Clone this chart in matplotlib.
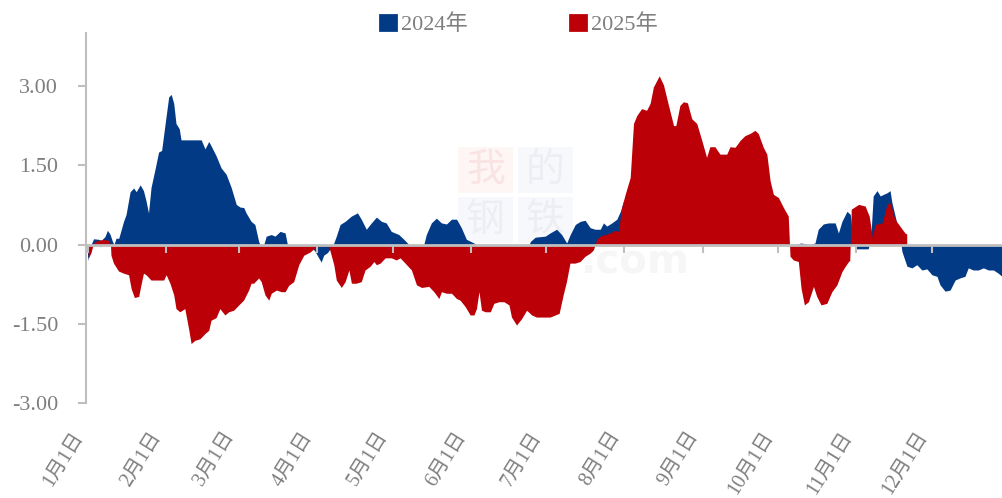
# 2024 vs 2025 area chart (daily values, day index from Jan 1)

import numpy as np
import pandas as pd
import matplotlib.pyplot as plt
from matplotlib.patches import Patch, Rectangle

plt.rcParams['font.family'] = ['Liberation Serif', 'Noto Sans CJK SC']
plt.rcParams['axes.unicode_minus'] = False

# 2024 series (blue)
days_2024 = [0, 0.5, 1.4, 2.4, 4.4, 5.4, 6.9, 7.9, 8.9, 9.9, 10.5, 11.3, 12.4, 14.3, 15.3,
             16.9, 18.3, 19.3, 20.9, 22.2, 23.2, 24.2, 25.2, 26.8, 28.2, 29.4, 30.8, 32.2,
             33.2, 34.2, 35.1, 36.4, 37.1, 39.1, 45.1, 46.6, 48.1, 49.0, 51.0, 53.0, 55.0,
             57.0, 59.0, 60.5, 62.0, 62.9, 64.9, 66.4, 67.9, 68.4, 69.9, 70.9, 72.9, 74.4,
             76.4, 78.4, 79.3, 87.8, 88.7, 90.2, 91.7, 92.7, 93.7, 95.2, 96.7, 97.7, 98.7,
             100.2, 102.2, 103.7, 104.7, 107.1, 108.6, 110.6, 112.6, 114.6, 116.6, 118.5,
             120.5, 123.5, 125.5, 127.5, 133.4, 134.4, 136.4, 138.4, 140.4, 142.4, 144.4,
             146.4, 148.3, 150.3, 153.3, 154.3, 175.2, 175.7, 177.6, 181.6, 183.5, 186.1,
             188.1, 190.1, 191.5, 193.5, 195.5, 197.4, 199.4, 201.4, 203.4, 204.7, 206.0,
             208.0, 210.0, 211.4, 212.7, 216, 222, 230, 240, 250, 260, 268, 274, 277, 278.4,
             281.4, 282.9, 284.4, 286.4, 288.6, 289.9, 291.9, 293.9, 296.6, 297.9, 299.3,
             301.3, 302.6, 303.2, 304.7, 309.7, 310.7, 311.7, 313.2, 314.5, 315.8, 317.2,
             318.4, 319.1, 321.1, 322.6, 323.1, 325.1, 327.1, 329.0, 331.0, 333.0, 335.0,
             337.0, 338.2, 340.2, 342.2, 344.2, 346.1, 348.1, 349.4, 351.4, 353.4, 355.4,
             357.4, 359.4, 361.3, 362.8]
vals_2024 = [-0.30, -0.20, 0.00, 0.11, 0.10, 0.08, 0.15, 0.27, 0.20, 0.06, 0.00, 0.12, 0.12, 0.44, 0.57,
             1.00, 1.07, 1.00, 1.13, 1.02, 0.83, 0.60, 1.08, 1.43, 1.75, 1.78, 2.29, 2.79,
             2.84, 2.67, 2.29, 2.19, 1.98, 1.98, 1.98, 1.81, 1.95, 1.87, 1.68, 1.45, 1.33,
             1.08, 0.76, 0.71, 0.70, 0.60, 0.44, 0.38, 0.06, 0.00, 0.00, 0.16, 0.19, 0.16,
             0.25, 0.22, 0.00, 0.00, -0.05, -0.12, -0.25, -0.33, -0.20, -0.15, -0.05, 0.03, 0.16,
             0.38, 0.44, 0.50, 0.54, 0.60, 0.48, 0.29, 0.41, 0.52, 0.44, 0.41,
             0.25, 0.19, 0.10, 0.00, 0.00, 0.19, 0.41, 0.50, 0.41, 0.39, 0.48,
             0.48, 0.32, 0.10, 0.03, 0.00, 0.00, 0.06, 0.14, 0.16, 0.22, 0.29,
             0.19, 0.03, 0.19, 0.38, 0.44, 0.46, 0.32, 0.29, 0.29, 0.41, 0.35,
             0.41, 0.48, 0.63, 0.83, 0.95, 1.10, 0.95, 1.00, 0.80, 0.70, 0.50, 0.30, 0.10, 0.00,
             0.00, 0.03, 0.02, 0.00, 0.03, 0.29, 0.39, 0.41, 0.41, 0.22, 0.44,
             0.63, 0.57, 0.30, -0.08, -0.08, 0.10, 0.92, 1.02, 0.92, 0.95, 0.98,
             1.02, 0.80, 0.40, 0.05, -0.13, -0.41, -0.44, -0.38, -0.48, -0.46, -0.57,
             -0.60, -0.76, -0.88, -0.86, -0.67, -0.63, -0.60, -0.44, -0.48, -0.48, -0.44,
             -0.48, -0.48, -0.54, -0.60]

# 2025 series (red)
days_2025 = [0, 0.4, 1.4, 2.2, 2.9, 4.4, 6.4, 8.3, 9.1, 9.3, 10.3, 12.3, 14.3, 16.3, 17.3,
             18.6, 20.3, 21.2, 22.2, 23.2, 25.2, 30.2, 31.2, 32.7, 34.2, 35.1, 36.6, 38.6,
             40.1, 41.1, 42.6, 44.6, 46.6, 48.1, 49.0, 51.0, 52.5, 54.5, 56.0, 58.0, 60.0,
             61.9, 63.9, 64.9, 65.9, 67.9, 68.9, 70.4, 71.9, 72.9, 74.9, 76.9, 78.4, 79.8,
             81.8, 83.8, 85.8, 88.3, 90.3, 92.7, 95.7, 97.7, 98.7, 100.7, 102.2, 103.7,
             104.7, 106.6, 108.6, 110.1, 112.1, 113.6, 114.6, 116.1, 118.1, 120.5, 122.5,
             124.0, 126.0, 128.5, 130.5, 132.5, 135.4, 137.4, 139.4, 140.4, 142.4, 144.4,
             146.4, 147.8, 149.8, 151.8, 153.3, 154.3, 155.3, 156.3, 157.8, 159.8, 161.2,
             163.2, 165.2, 167.2, 168.2, 170.2, 172.2, 174.2, 176.2, 178.1, 181.6, 183.5,
             187.1, 188.7, 190.0, 191.4, 193.4, 195.4, 197.4, 199.4, 200.7, 202.0, 203.4,
             205.3, 207.3, 209.3, 210.6, 211.9, 213.3, 215.3, 216.6, 217.9, 219.8, 221.8,
             223.2, 224.5, 226.8, 228.5, 230.5, 232.5, 233.4, 235.0, 236.4, 238.0, 239.7,
             241.7, 243.7, 245.6, 246.9, 248.9, 250.9, 253.6, 254.9, 256.9, 258.9, 260.8,
             262.8, 264.8, 266.1, 268.1, 269.5, 270.8, 272.1, 274.1, 276.1, 278.0, 278.7,
             280.0, 282.0, 283.1, 284.4, 286.0, 288.0, 289.3, 291.0, 293.3, 295.3, 297.3,
             299.3, 300.6, 301.9, 302.4, 303.0, 305.9, 308.5, 310.1, 311.4, 312.4, 315.2,
             317.2, 318.4, 320.3, 322.3, 324.3, 325.0]
vals_2025 = [-0.05, -0.25, -0.15, 0.00, 0.06, 0.08, 0.10, 0.08, 0.00, -0.20, -0.35, -0.50, -0.54, -0.57, -0.83,
             -1.00, -0.98, -0.76, -0.54, -0.57, -0.67, -0.67, -0.57, -0.73, -0.95, -1.21, -1.27, -1.21,
             -1.59, -1.87, -1.81, -1.78, -1.68, -1.62, -1.43, -1.38, -1.21, -1.33, -1.27, -1.24, -1.14,
             -1.05, -0.86, -0.73, -0.73, -0.63, -0.70, -0.95, -1.05, -0.92, -0.86, -0.89, -0.89, -0.77,
             -0.70, -0.38, -0.20, -0.14, -0.06, -0.02, -0.03, -0.38, -0.67, -0.81, -0.70, -0.48,
             -0.73, -0.73, -0.70, -0.48, -0.41, -0.32, -0.38, -0.35, -0.25, -0.25, -0.29,
             -0.25, -0.35, -0.48, -0.76, -0.81, -0.79, -0.89, -1.02, -0.89, -0.92, -0.92,
             -1.02, -1.05, -1.17, -1.33, -1.33, -1.21, -0.89, -1.24, -1.27, -1.27, -1.11,
             -1.08, -1.08, -1.14, -1.37, -1.52, -1.40, -1.24, -1.33, -1.37, -1.37, -1.37,
             -1.30, -0.95, -0.70, -0.35, -0.35, -0.32, -0.22, -0.16, -0.10, 0.10, 0.16,
             0.19, 0.22, 0.27, 0.25, 0.70, 0.95, 1.27, 2.29, 2.44, 2.57, 2.54,
             2.67, 2.98, 3.19, 3.02, 2.63, 2.25, 2.25, 2.63, 2.70, 2.68, 2.38,
             2.29, 1.97, 1.65, 1.85, 1.85, 1.71, 1.71, 1.85, 1.84, 1.97, 2.06,
             2.10, 2.16, 2.10, 1.84, 1.71, 1.21, 0.95, 0.89, 0.70, 0.54, -0.22,
             -0.29, -0.32, -0.83, -1.14, -1.08, -0.79, -0.98, -1.14, -1.11, -0.89, -0.76,
             -0.51, -0.41, -0.32, -0.30, 0.67, 0.76, 0.73, 0.54, 0.13, 0.38, 0.41,
             0.76, 0.79, 0.48, 0.35, 0.22, 0.20]

month_starts = pd.date_range('2024-01-01', periods=12, freq='MS')
tick_days = month_starts.dayofyear - 1
tick_labels = [f'{m}月1日' for m in month_starts.month]

blue = '#033A85'
red = '#BB0008'
grey_line = '#BFBFBF'
grey_text = '#7F7F7F'

fig = plt.figure(figsize=(10.02, 4.98), dpi=100)
ax = fig.add_axes([86 / 1002, 94.7 / 498, 916 / 1002, 370.3 / 498])
ax.patch.set_alpha(0)

# faint watermark
wm = [('我', 458, 147, '#FEF5F5', '#FAE3E3'), ('的', 518, 147, '#F7F8FB', '#ECEEF3'),
      ('钢', 458, 197, '#F7F8FB', '#ECEEF3'), ('铁', 518, 197, '#F7F8FB', '#ECEEF3')]
for ch, px, py, bg, fg in wm:
    ax.add_patch(Rectangle((px / 1002, 1 - (py + 46) / 498), 55 / 1002, 46 / 498,
                           transform=fig.transFigure, facecolor=bg, edgecolor='none', zorder=0))
    ax.text((px + 27.5) / 1002, 1 - (py + 23) / 498, ch, transform=fig.transFigure,
            ha='center', va='center', fontsize=28, color=fg, zorder=0.1,
            family=['Noto Sans CJK SC'])
ax.text(690 / 1002, 1 - 262 / 498, '.com', transform=fig.transFigure, ha='right', va='center',
        fontsize=29, color='#F6F6F6', fontweight='bold', family=['DejaVu Sans'], zorder=0.1)

ax.fill_between(days_2024, 0, vals_2024, color=blue, linewidth=0, zorder=1)
ax.fill_between(days_2025, 0, vals_2025, color=red, linewidth=0, zorder=1.5)

ax.set_xlim(-0.6, 362.8)
ax.set_ylim(-3, 4)
ax.set_yticks([-3, -1.5, 0, 1.5, 3])
ax.set_yticklabels([f'{v:.2f}' for v in [-3, -1.5, 0, 1.5, 3]])

for s in ['top', 'right']:
    ax.spines[s].set_visible(False)
ax.spines['left'].set_color(grey_line)
ax.spines['left'].set_linewidth(1.5)
ax.spines['bottom'].set_position(('data', 0))
ax.spines['bottom'].set_color(grey_line)
ax.spines['bottom'].set_linewidth(2)
ax.spines['bottom'].set_zorder(3)

ax.set_xticks(tick_days)
ax.tick_params(axis='x', direction='out', length=6, width=1.5, color=grey_line, labelbottom=False)
ax.tick_params(axis='y', direction='out', length=6, width=1.5, color=grey_line,
               labelsize=16, labelcolor=grey_text, pad=14)

sec = ax.secondary_xaxis('bottom')
sec.set_xticks(tick_days)
sec.set_xticklabels(tick_labels, rotation=58, ha='right', va='top')
sec.spines['bottom'].set_visible(False)
sec.tick_params(length=0, labelsize=14.5, labelcolor=grey_text, pad=18)

handles = [Patch(facecolor=blue, edgecolor=blue, linewidth=2, joinstyle='round', label='2024年'),
           Patch(facecolor=red, edgecolor=red, linewidth=2, joinstyle='round', label='2025年')]
fig.legend(handles=handles, loc='center', bbox_to_anchor=(519 / 1002, 1 - 25 / 498), ncol=2,
           frameon=False, fontsize=16, labelcolor=grey_text, handlelength=0.7, handleheight=0.7,
           handletextpad=0.25, columnspacing=4.6, borderpad=0)

fig.savefig('out.png', dpi=100)
